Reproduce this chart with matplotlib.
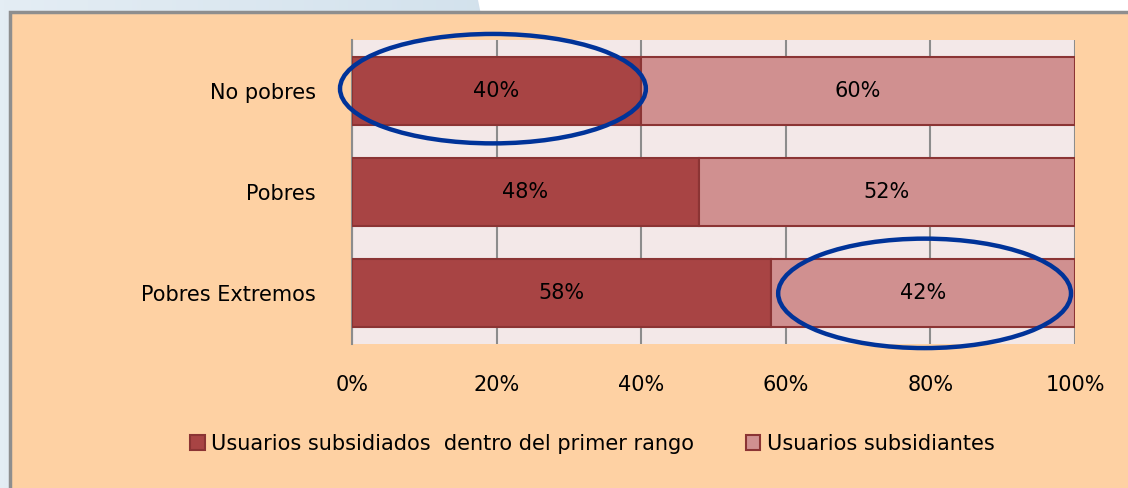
import numpy as np
import matplotlib.pyplot as plt
from matplotlib.colors import LinearSegmentedColormap
from matplotlib.patches import Rectangle, Ellipse, Polygon

categorias = ['Pobres Extremos', 'Pobres', 'No pobres']
subsidiados = [58, 48, 40]
subsidiantes = [42, 52, 60]
series = ['Usuarios subsidiados  dentro del primer rango', 'Usuarios subsidiantes']
xticks = [0, 20, 40, 60, 80, 100]

color_osc = '#A84444'
color_cla = '#D09090'
borde = '#8B3434'
fs = 15

fig = plt.figure(figsize=(11.28, 4.88), dpi=100)
fig.patch.set_facecolor('#DDE8F0')

# fondo de la diapositiva
grad = np.linspace(0, 1, 256).reshape(1, -1)
bg = fig.add_axes([0, 0, 1, 1], zorder=-10)
bg.imshow(grad, aspect='auto', cmap=LinearSegmentedColormap.from_list('g', ['#E4EDF4', '#BCD3E3']),
          extent=[0, 1, 0, 1])
bg.add_patch(Polygon([[478 / 1128, 1], [1, 1], [1, 0.9], [488 / 1128, 0.9]],
                     closed=True, facecolor='white', edgecolor='none'))
bg.add_patch(Rectangle((10 / 1128, -0.1), 1.2, 1.1 - 12 / 488, facecolor='#FED1A3',
                       edgecolor='#8E8E8E', linewidth=2.5))
bg.set_xlim(0, 1)
bg.set_ylim(0, 1)
bg.axis('off')

ax = fig.add_axes([0.312, 0.295, 0.641, 0.623])
ax.set_facecolor('#F3E8E8')
y = np.arange(len(categorias))
h = 0.67
b1 = ax.barh(y, subsidiados, height=h, color=color_osc, edgecolor=borde, linewidth=1.5,
             label=series[0], zorder=3)
b2 = ax.barh(y, subsidiantes, height=h, left=subsidiados, color=color_cla, edgecolor=borde,
             linewidth=1.5, label=series[1], zorder=3)

for bars in (b1, b2):
    for r in bars:
        ax.text(r.get_x() + r.get_width() / 2, r.get_y() + r.get_height() / 2,
                '%d%%' % round(r.get_width()), ha='center', va='center',
                fontsize=fs, color='black', zorder=5)

ax.set_xlim(0, 100)
ax.set_ylim(-0.5, 2.5)
ax.set_xticks(xticks)
ax.set_xticklabels(['%d%%' % t for t in xticks], fontsize=fs)
ax.set_yticks(y)
ax.set_yticklabels(categorias, fontsize=fs)
ax.tick_params(axis='both', which='both', length=0)
ax.tick_params(axis='x', pad=22)
ax.tick_params(axis='y', pad=26)
ax.grid(axis='x', color='#8C8C8C', linewidth=1.5, zorder=1)
for s in ['top', 'right', 'bottom']:
    ax.spines[s].set_visible(False)
ax.spines['left'].set_color('#8C8C8C')
ax.spines['left'].set_linewidth(1.5)

# resaltes
ax.add_patch(Ellipse((19.5, 2.02), 42.3, 1.08, fill=False, edgecolor='#003399',
                     linewidth=3.2, zorder=6, clip_on=False))
ax.add_patch(Ellipse((79.2, 0.0), 40.5, 1.08, fill=False, edgecolor='#003399',
                     linewidth=3.2, zorder=6, clip_on=False))

fig.legend(handles=[b1, b2], labels=series, loc='center', bbox_to_anchor=(0.525, 0.09),
           ncol=2, frameon=False, fontsize=fs, handlelength=0.7, handleheight=0.7,
           handletextpad=0.3, columnspacing=2.5)

fig.savefig('out.png', dpi=100, facecolor=fig.get_facecolor())
